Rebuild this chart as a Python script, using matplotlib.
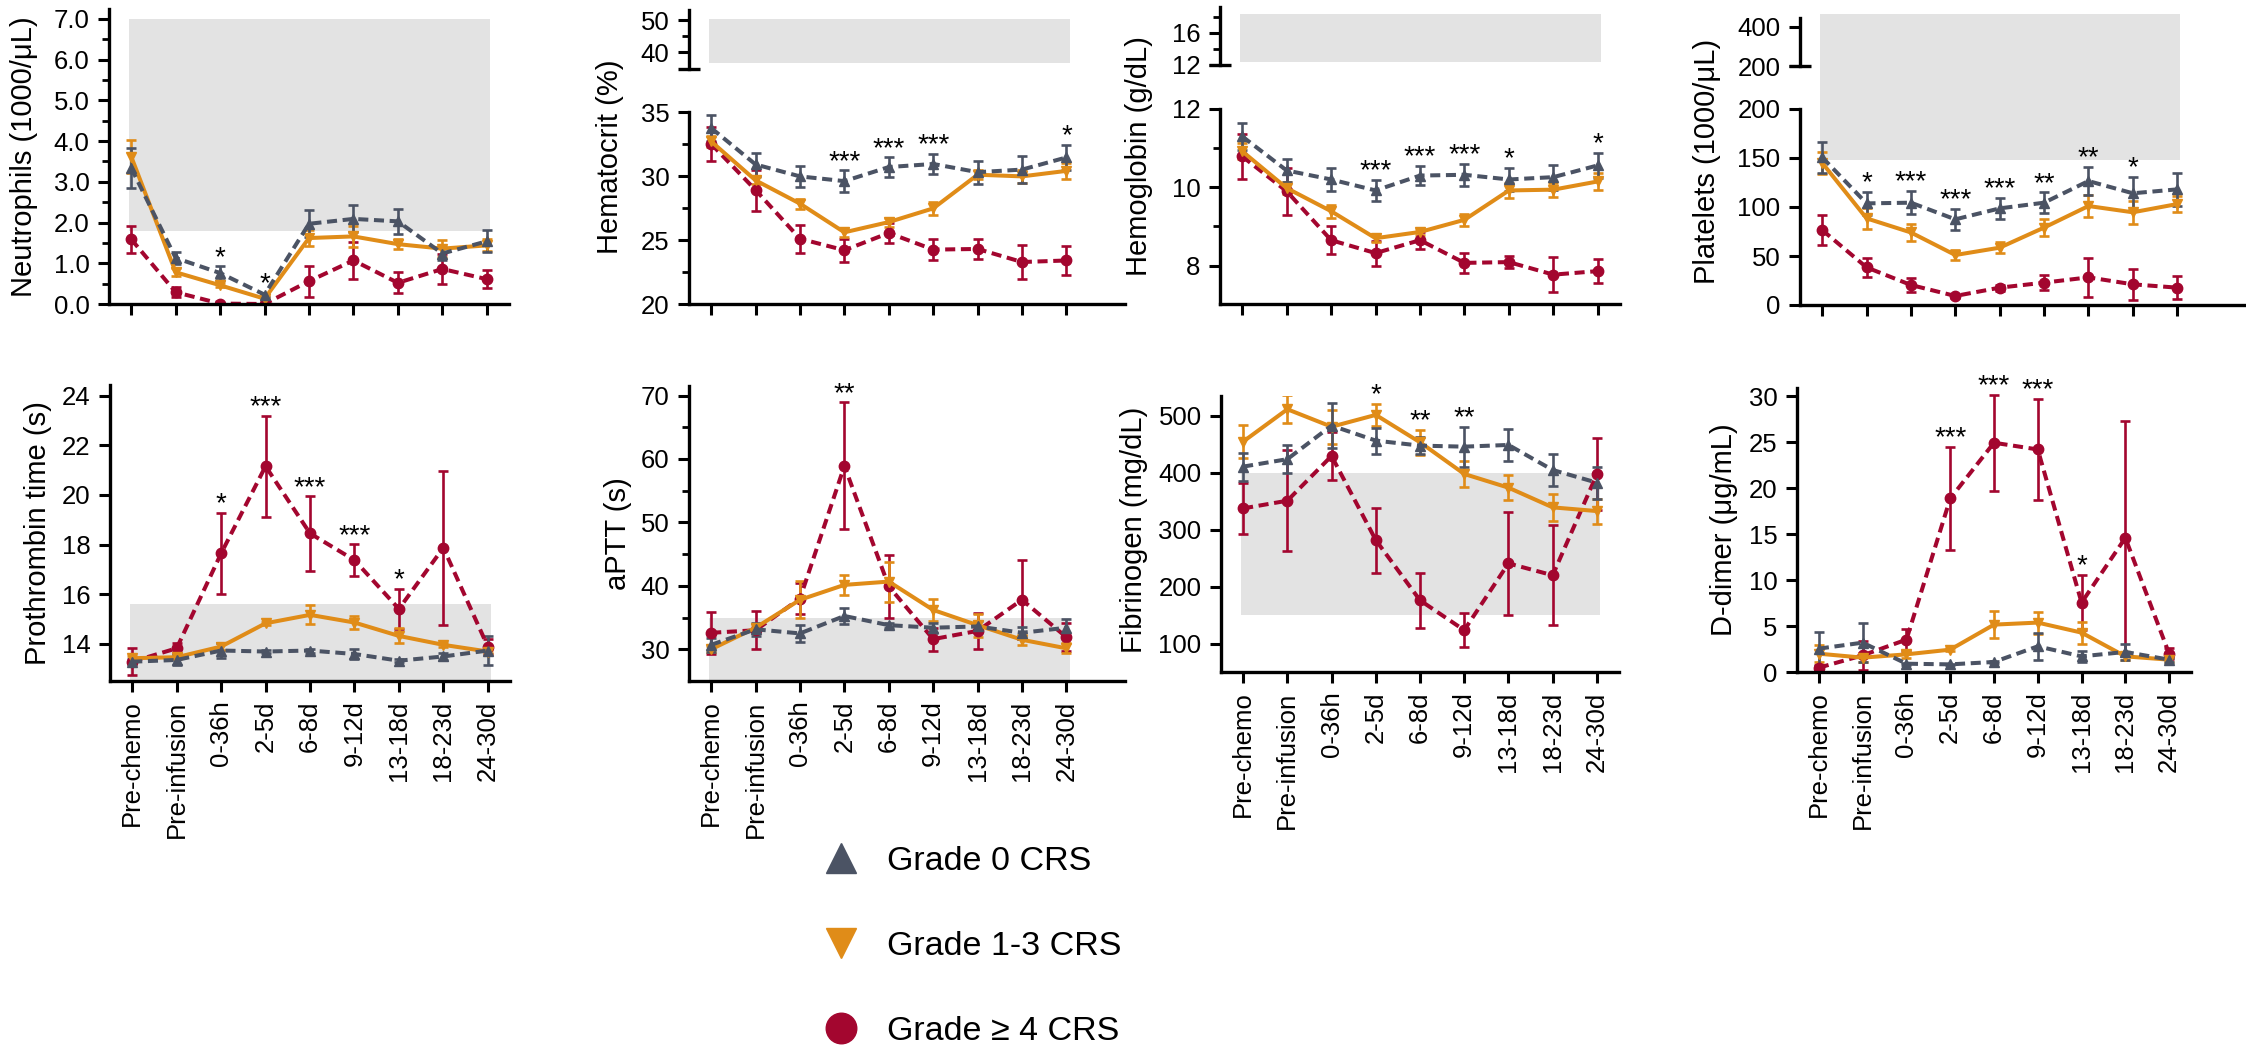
import matplotlib
matplotlib.use("Agg")
import matplotlib.pyplot as plt
from matplotlib.lines import Line2D
from matplotlib.patches import Rectangle
from matplotlib.ticker import FixedLocator, NullFormatter

plt.rcParams['font.family'] = ['Liberation Sans', 'DejaVu Sans']

timepoints = ["Pre-chemo", "Pre-infusion", "0-36h", "2-5d", "6-8d",
              "9-12d", "13-18d", "18-23d", "24-30d"]
groups = ["Grade 0 CRS", "Grade 1-3 CRS", "Grade \u2265 4 CRS"]

# mean +/- SEM per time point, for each CRS grade group
neut_g0 = [3.34, 1.13, 0.76, 0.23, 1.97, 2.09, 2.03, 1.24, 1.54]
neut_g0_err = [0.48, 0.15, 0.17, 0.05, 0.33, 0.33, 0.30, 0.15, 0.27]
neut_g13 = [3.62, 0.78, 0.46, 0.13, 1.62, 1.66, 1.47, 1.36, 1.44]
neut_g13_err = [0.40, 0.10, 0.05, 0.04, 0.20, 0.25, 0.13, 0.20, 0.15]
neut_g4 = [1.59, 0.29, 0.01, 0.0, 0.56, 1.07, 0.52, 0.86, 0.61]
neut_g4_err = [0.33, 0.12, 0.0, 0.0, 0.38, 0.45, 0.26, 0.38, 0.22]
neut_sig = ['', '', '*', '*', '', '', '', '', '']

hct_g0 = [33.75, 30.9, 29.97, 29.6, 30.7, 30.94, 30.3, 30.5, 31.45]
hct_g0_err = [1.05, 0.9, 0.85, 0.85, 0.75, 0.8, 0.9, 1.05, 1.0]
hct_g13 = [32.7, 29.66, 27.84, 25.6, 26.4, 27.47, 30.1, 29.97, 30.4]
hct_g13_err = [0.4, 0.3, 0.4, 0.35, 0.35, 0.5, 0.35, 0.5, 0.65]
hct_g4 = [32.5, 28.9, 25.1, 24.2, 25.55, 24.25, 24.3, 23.28, 23.4]
hct_g4_err = [1.35, 1.6, 1.1, 0.9, 0.8, 0.85, 0.75, 1.3, 1.1]
hct_sig = ['', '', '', '***', '***', '***', '', '', '*']

hgb_g0 = [11.3, 10.43, 10.2, 9.92, 10.3, 10.32, 10.2, 10.26, 10.56]
hgb_g0_err = [0.34, 0.3, 0.3, 0.27, 0.25, 0.28, 0.3, 0.32, 0.32]
hgb_g13 = [10.92, 9.98, 9.39, 8.7, 8.86, 9.17, 9.92, 9.94, 10.15]
hgb_g13_err = [0.2, 0.15, 0.17, 0.1, 0.08, 0.15, 0.2, 0.18, 0.22]
hgb_g4 = [10.79, 9.9, 8.65, 8.32, 8.65, 8.07, 8.09, 7.77, 7.86]
hgb_g4_err = [0.57, 0.6, 0.35, 0.32, 0.22, 0.25, 0.15, 0.45, 0.3]
hgb_sig = ['', '', '', '***', '***', '***', '*', '', '*']

plate_g0 = [150.7, 103.7, 104.4, 87.4, 98.6, 104.4, 126.5, 114, 118]
plate_g0_err = [16, 12, 12, 10.5, 11, 10.5, 14.5, 17, 17]
plate_g13 = [145, 88.4, 74, 51, 58.5, 79, 101, 94.6, 103]
plate_g13_err = [11, 11, 8.5, 5, 5.5, 8.5, 11, 11.5, 8]
plate_g4 = [76.5, 38.4, 20.4, 9.2, 17.7, 22.8, 28.2, 21.1, 17.7]
plate_g4_err = [15, 9.5, 7, 2, 3, 8, 20, 15.5, 11.5]
plate_sig = ['', '*', '***', '***', '***', '**', '**', '*', '']

pt_g0 = [13.27, 13.34, 13.72, 13.68, 13.72, 13.58, 13.31, 13.48, 13.72]
pt_g0_err = [0.1, 0.2, 0.3, 0.05, 0.08, 0.2, 0.06, 0.15, 0.58]
pt_g13 = [13.41, 13.45, 13.88, 14.82, 15.16, 14.85, 14.31, 13.95, 13.68]
pt_g13_err = [0.1, 0.08, 0.15, 0.05, 0.38, 0.27, 0.3, 0.08, 0.05]
pt_g4 = [13.27, 13.81, 17.64, 21.16, 18.45, 17.37, 15.4, 17.87, 13.88]
pt_g4_err = [0.55, 0.2, 1.65, 2.04, 1.5, 0.64, 0.82, 3.1, 0.3]
pt_sig = ['', '', '*', '***', '***', '***', '*', '', '']

aptt_g0 = [30.7, 33.15, 32.5, 35.25, 33.8, 33.4, 33.6, 32.6, 33.4]
aptt_g0_err = [1.1, 1.05, 1.4, 1.3, 0.4, 0.8, 0.9, 0.95, 1.4]
aptt_g13 = [30.0, 33.4, 37.8, 40.15, 40.67, 36.2, 33.8, 31.5, 30.15]
aptt_g13_err = [0.5, 0.5, 2.9, 1.6, 3.15, 1.7, 1.8, 0.8, 0.8]
aptt_g4 = [32.6, 33.0, 38.0, 58.9, 39.9, 31.6, 32.9, 37.8, 31.9]
aptt_g4_err = [3.3, 3.0, 2.4, 10.0, 5.0, 1.8, 2.8, 6.2, 2.2]
aptt_sig = ['', '', '', '**', '', '', '', '', '']

fib_g0 = [410.9, 424, 483, 456.6, 447.8, 446, 449, 405, 382.7]
fib_g0_err = [24.5, 24.5, 40, 23, 14.5, 35, 28, 28, 28]
fib_g13 = [454.8, 511.7, 481, 501.8, 453.7, 398, 373.9, 339.3, 332.8]
fib_g13_err = [28.5, 25, 30, 20, 22, 23, 22.5, 24, 22]
fib_g4 = [337.5, 351, 429.6, 281.8, 176, 123.5, 240.8, 220, 397.4]
fib_g4_err = [45, 89, 43, 57, 48.5, 30, 91, 88, 63]
fib_sig = ['', '', '', '*', '**', '**', '', '', '']

dd_g0 = [2.54, 3.19, 0.9, 0.83, 1.09, 2.79, 1.7, 2.18, 1.34]
dd_g0_err = [1.85, 2.1, 0.1, 0.08, 0.1, 1.45, 0.6, 0.9, 0.2]
dd_g13 = [1.99, 1.56, 1.92, 2.43, 5.15, 5.37, 4.28, 1.7, 1.34]
dd_g13_err = [0.9, 0.5, 0.4, 0.2, 1.45, 1.2, 1.2, 0.4, 0.2]
dd_g4 = [0.47, 1.81, 3.52, 18.86, 24.92, 24.19, 7.54, 14.58, 1.99]
dd_g4_err = [0.3, 1.6, 1.2, 5.6, 5.2, 5.5, 3.0, 12.7, 0.6]
dd_sig = ['', '', '', '***', '***', '***', '*', '', '']

# normal reference ranges (shaded band)
neut_ref = (1.8, 7.0)
hct_ref = (36.7, 50.3)
hgb_ref = (12.4, 18.4)
plate_ref = (148, 465)
pt_ref = (12.0, 15.6)
aptt_ref = (25, 35)
fib_ref = (150, 400)

GRAY = '#4b5364'
ORANGE = '#e08c18'
RED = '#a3062f'
SHADE = '#e3e3e3'

W, H = 2246, 1048
fig = plt.figure(figsize=(W / 100, H / 100), dpi=100)


def px_axes(left, top, right, bottom):
    ax = fig.add_axes([left / W, 1 - bottom / H, (right - left) / W, (bottom - top) / H])
    ax.set_facecolor('none')
    for side in ['top', 'right']:
        ax.spines[side].set_visible(False)
    for side in ['left', 'bottom']:
        ax.spines[side].set_linewidth(2.4)
    ax.tick_params(which='major', length=8, width=2.2, labelsize=18.5, pad=6)
    ax.tick_params(which='minor', length=5, width=2.0)
    return ax


def draw_series(ax, g0, g0e, g13, g13e, g4, g4e):
    x = list(range(len(timepoints)))
    kw = dict(lw=2.9, elinewidth=1.9, capsize=3.6, capthick=1.9, ms=7.5)
    ax.errorbar(x, g4, yerr=g4e, color=RED, marker='o', dashes=(2.5, 1.4), **kw)
    ax.errorbar(x, g13, yerr=g13e, color=ORANGE, marker='v', ls='-', **kw)
    ax.errorbar(x, g0, yerr=g0e, color=GRAY, marker='^', dashes=(2.5, 1.4), **kw)


def draw_stars(ax, sig, series):
    for i, s in enumerate(sig):
        if not s:
            continue
        top = max(m[i] + e[i] for m, e in series)
        ax.annotate(s, (i, top), xytext=(0, 1), textcoords='offset points',
                    ha='center', va='baseline', fontsize=20)


def setup_x(ax, xmax, labels):
    ax.set_xlim(-0.5, xmax)
    ax.set_xticks(range(len(timepoints)))
    if labels:
        ax.set_xticklabels(timepoints, rotation=90)
    else:
        ax.set_xticklabels([])


def upper_part(ax, ylim, major, minor, labels):
    ax.set_ylim(*ylim)
    ax.spines['bottom'].set_visible(False)
    ax.set_xticks([])
    ax.yaxis.set_major_locator(FixedLocator(major))
    ax.set_yticklabels(labels)
    ax.yaxis.set_minor_locator(FixedLocator(minor))
    ax.yaxis.set_minor_formatter(NullFormatter())
    # short cap across the spine where the axis is broken
    ax.plot([-0.5 - 0.25, -0.5 + 0.25], [ylim[0], ylim[0]], color='k', lw=2.4,
            clip_on=False, solid_capstyle='butt')


SX0, SX1 = -0.05, 8.07

# ---- Neutrophils
ax = px_axes(109, 9, 509, 304)
setup_x(ax, 8.5, False)
ax.set_ylim(0, 7.245)
ax.spines['left'].set_bounds(0, 7.245)
ax.fill_between([SX0, SX1], *neut_ref, color=SHADE, lw=0, zorder=0)
ax.set_yticks([0, 1, 2, 3, 4, 5, 6, 7])
ax.set_yticklabels(['0.0', '1.0', '2.0', '3.0', '4.0', '5.0', '6.0', '7.0'])
ax.yaxis.set_minor_locator(FixedLocator([0.5, 1.5, 2.5, 3.5, 4.5, 5.5, 6.5]))
draw_series(ax, neut_g0, neut_g0_err, neut_g13, neut_g13_err, neut_g4, neut_g4_err)
draw_stars(ax, neut_sig, [(neut_g0, neut_g0_err), (neut_g13, neut_g13_err), (neut_g4, neut_g4_err)])
ax.set_ylabel("Neutrophils (1000/\u03bcL)", fontsize=21)
ax.yaxis.set_label_coords(-71 / 400, (304 - 157) / 295)

# ---- Hematocrit (broken axis)
axu = px_axes(689, 10, 1125, 69)
axu.set_xlim(-0.5, 9.32)
upper_part(axu, (34.85, 53.1), [40, 50], [45], ['40', '50'])
axu.fill_between([SX0, SX1], *hct_ref, color=SHADE, lw=0, zorder=0)
ax = px_axes(689, 112, 1125, 304)
setup_x(ax, 9.32, False)
ax.set_ylim(20, 35)
ax.set_yticks([20, 25, 30, 35])
ax.yaxis.set_minor_locator(FixedLocator([22.5, 27.5, 32.5]))
draw_series(ax, hct_g0, hct_g0_err, hct_g13, hct_g13_err, hct_g4, hct_g4_err)
draw_stars(ax, hct_sig, [(hct_g0, hct_g0_err), (hct_g13, hct_g13_err), (hct_g4, hct_g4_err)])
ax.set_ylabel("Hematocrit (%)", fontsize=21)
ax.yaxis.set_label_coords(-65 / 436, (304 - 157) / 192)

# ---- Hemoglobin (broken axis)
axu = px_axes(1220, 7, 1620, 65)
axu.set_xlim(-0.5, 8.5)
upper_part(axu, (12, 19.25), [12, 16], [14, 18], ['12', '16'])
axu.fill_between([SX0, SX1], *hgb_ref, color=SHADE, lw=0, zorder=0)
ax = px_axes(1220, 109, 1620, 304)
setup_x(ax, 8.5, False)
ax.set_ylim(7.02, 12)
ax.set_yticks([8, 10, 12])
ax.yaxis.set_minor_locator(FixedLocator([9, 11]))
draw_series(ax, hgb_g0, hgb_g0_err, hgb_g13, hgb_g13_err, hgb_g4, hgb_g4_err)
draw_stars(ax, hgb_sig, [(hgb_g0, hgb_g0_err), (hgb_g13, hgb_g13_err), (hgb_g4, hgb_g4_err)])
ax.set_ylabel("Hemoglobin (g/dL)", fontsize=21)
ax.yaxis.set_label_coords(-67 / 400, (304 - 156) / 195)

# ---- Platelets (broken axis, reference band spans the break)
axu = px_axes(1800, 18, 2246, 66)
axu.set_xlim(-0.5, 9.55)
upper_part(axu, (200, 445), [200, 400], [], ['200', '400'])
ax = px_axes(1800, 109, 2246, 305)
setup_x(ax, 9.55, False)
ax.set_ylim(0, 200)
ax.set_yticks([0, 50, 100, 150, 200])
ax.add_patch(Rectangle((SX0, plate_ref[0]), SX1 - SX0, 297 - plate_ref[0],
                       color=SHADE, lw=0, zorder=0, clip_on=False))
draw_series(ax, plate_g0, plate_g0_err, plate_g13, plate_g13_err, plate_g4, plate_g4_err)
draw_stars(ax, plate_sig, [(plate_g0, plate_g0_err), (plate_g13, plate_g13_err), (plate_g4, plate_g4_err)])
ax.set_ylabel("Platelets (1000/\u03bcL)", fontsize=21)
ax.yaxis.set_label_coords(-79 / 446, (305 - 161) / 196)

# ---- Prothrombin time
ax = px_axes(110, 385, 510, 681)
setup_x(ax, 8.5, True)
ax.set_ylim(12.49, 24.44)
ax.fill_between([SX0, SX1], *pt_ref, color=SHADE, lw=0, zorder=0)
ax.set_yticks([14, 16, 18, 20, 22, 24])
draw_series(ax, pt_g0, pt_g0_err, pt_g13, pt_g13_err, pt_g4, pt_g4_err)
draw_stars(ax, pt_sig, [(pt_g0, pt_g0_err), (pt_g13, pt_g13_err), (pt_g4, pt_g4_err)])
ax.set_ylabel("Prothrombin time (s)", fontsize=21)
ax.yaxis.set_label_coords(-58 / 400, 0.5)

# ---- aPTT
ax = px_axes(689, 386, 1125, 681)
setup_x(ax, 9.32, True)
ax.set_ylim(25, 71.5)
ax.fill_between([SX0, SX1], *aptt_ref, color=SHADE, lw=0, zorder=0)
ax.set_yticks([30, 40, 50, 60, 70])
ax.yaxis.set_minor_locator(FixedLocator([35, 45, 55, 65]))
draw_series(ax, aptt_g0, aptt_g0_err, aptt_g13, aptt_g13_err, aptt_g4, aptt_g4_err)
draw_stars(ax, aptt_sig, [(aptt_g0, aptt_g0_err), (aptt_g13, aptt_g13_err), (aptt_g4, aptt_g4_err)])
ax.set_ylabel("aPTT (s)", fontsize=21)
ax.yaxis.set_label_coords(-57 / 436, 0.5)

# ---- Fibrinogen
ax = px_axes(1221, 396, 1619, 672)
setup_x(ax, 8.5, True)
ax.set_ylim(50, 535)
ax.fill_between([SX0, SX1], *fib_ref, color=SHADE, lw=0, zorder=0)
ax.set_yticks([100, 200, 300, 400, 500])
draw_series(ax, fib_g0, fib_g0_err, fib_g13, fib_g13_err, fib_g4, fib_g4_err)
draw_stars(ax, fib_sig, [(fib_g0, fib_g0_err), (fib_g13, fib_g13_err), (fib_g4, fib_g4_err)])
ax.set_ylabel("Fibrinogen (mg/dL)", fontsize=21)
ax.yaxis.set_label_coords(-73 / 398, (672 - 530) / 276)

# ---- D-dimer
ax = px_axes(1797, 388, 2191, 672)
setup_x(ax, 8.5, True)
ax.set_ylim(0, 30.87)
ax.set_yticks([0, 5, 10, 15, 20, 25, 30])
draw_series(ax, dd_g0, dd_g0_err, dd_g13, dd_g13_err, dd_g4, dd_g4_err)
draw_stars(ax, dd_sig, [(dd_g0, dd_g0_err), (dd_g13, dd_g13_err), (dd_g4, dd_g4_err)])
ax.set_ylabel("D-dimer (\u03bcg/mL)", fontsize=21)
ax.yaxis.set_label_coords(-59 / 394, 0.5)

# ---- legend
handles = [Line2D([], [], ls='none', marker=m, color=c, ms=22)
           for m, c in zip(['^', 'v', 'o'], [GRAY, ORANGE, RED])]
fig.legend(handles, groups, loc='upper left', bbox_to_anchor=(821 / W, 1 - 846 / H),
           frameon=False, fontsize=24.5, handlelength=1.2, handletextpad=0.75,
           labelspacing=1.58, borderpad=0, borderaxespad=0)

fig.savefig("out.png", dpi=100)
